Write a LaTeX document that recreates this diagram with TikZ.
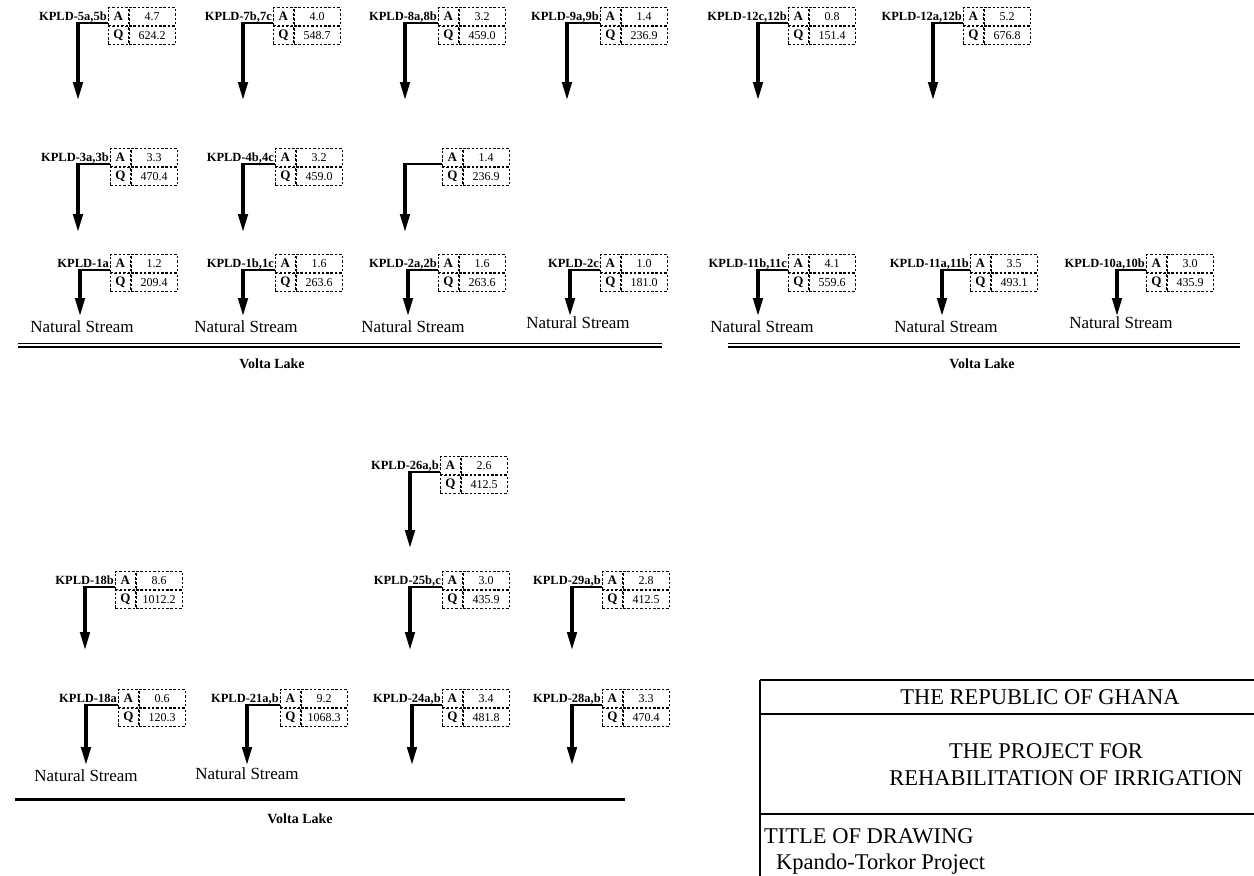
\documentclass[tikz,border=0pt]{standalone}
\usepackage{fontspec}
\setmainfont{Liberation Serif}
\usetikzlibrary{arrows.meta}
\tikzset{
  cellbox/.style={draw, dashed, dash pattern=on 2.5pt off 1.8pt, line width=0.7pt, minimum width=20pt, minimum height=18pt, inner sep=0pt, font=\fontsize{13}{14}\selectfont\bfseries},
  valbox/.style={draw, dashed, dash pattern=on 2.5pt off 1.8pt, line width=0.7pt, minimum width=46pt, minimum height=18pt, inner sep=0pt, font=\fontsize{12}{13}\selectfont},
  kplabel/.style={inner sep=1pt, font=\fontsize{12.5}{13}\selectfont\bfseries},
  hline/.style={line width=1.8pt},
  flow/.style={line width=3.2pt, -{Triangle[length=18pt,width=9.5pt]}},
  stream/.style={inner sep=0pt, font=\fontsize{17}{18}\selectfont},
  lake/.style={inner sep=0pt, font=\fontsize{14}{15}\selectfont\bfseries},
  titletxt/.style={inner sep=0pt, font=\fontsize{22.5}{26}\selectfont, align=center},
  frame/.style={line width=1.2pt},
}
% #1 name, #2 left x of cells, #3 split y, #4 label, #5 A, #6 Q, #7 arrow x, #8 tip y
\newcommand{\flowunit}[8]{%
  \node[cellbox, anchor=south west] (#1-a) at (#2,#3) {A};
  \node[cellbox, anchor=north west] (#1-q) at (#2,#3) {Q};
  \node[valbox, anchor=west] (#1-av) at (#1-a.east) {#5};
  \node[valbox, anchor=west] (#1-qv) at (#1-q.east) {#6};
  \node[kplabel, anchor=east] (#1-l) at (#1-a.west) {#4};
  \coordinate (#1-c) at (#7,#3-3);
  \coordinate (#1-e) at (#7,#8);
  \draw[hline] ([yshift=3pt]#1-a.south west) -- (#1-c);
  \draw[flow] ([yshift=0.9pt]#1-c) -- (#1-e);
}
\begin{document}
\begin{tikzpicture}[x=1pt,y=-1pt]
\useasboundingbox[fill=white] (0,0) rectangle (1254,876);
% ---- section 1, row 1
\flowunit{u1}{108}{26}{KPLD-5a,5b}{4.7}{624.2}{78}{100}
\flowunit{u2}{273}{26}{KPLD-7b,7c}{4.0}{548.7}{243}{100}
\flowunit{u3}{438}{26}{KPLD-8a,8b}{3.2}{459.0}{405}{100}
\flowunit{u4}{600}{26}{KPLD-9a,9b}{1.4}{236.9}{567}{100}
\flowunit{u5}{788}{26}{KPLD-12c,12b}{0.8}{151.4}{758}{100}
\flowunit{u6}{963}{26}{KPLD-12a,12b}{5.2}{676.8}{933}{100}
% ---- row 2
\flowunit{u7}{110}{167}{KPLD-3a,3b}{3.3}{470.4}{78}{232}
\flowunit{u8}{275}{167}{KPLD-4b,4c}{3.2}{459.0}{243}{232}
\flowunit{u9}{442}{167}{}{1.4}{236.9}{405}{232}
% ---- row 3
\flowunit{u10}{110}{273}{KPLD-1a}{1.2}{209.4}{80}{316}
\flowunit{u11}{275}{273}{KPLD-1b,1c}{1.6}{263.6}{243}{316}
\flowunit{u12}{438}{273}{KPLD-2a,2b}{1.6}{263.6}{408}{316}
\flowunit{u13}{600}{273}{KPLD-2c}{1.0}{181.0}{570}{316}
\flowunit{u14}{788}{273}{KPLD-11b,11c}{4.1}{559.6}{758}{316}
\flowunit{u15}{970}{273}{KPLD-11a,11b}{3.5}{493.1}{942}{316}
\flowunit{u16}{1146}{273}{KPLD-10a,10b}{3.0}{435.9}{1117}{316}
\node[stream] (ns1) at (82,327) {Natural Stream};
\node[stream] (ns2) at (246,327) {Natural Stream};
\node[stream] (ns3) at (413,327) {Natural Stream};
\node[stream] (ns4) at (578,323) {Natural Stream};
\node[stream] (ns5) at (762,327) {Natural Stream};
\node[stream] (ns6) at (946,327) {Natural Stream};
\node[stream] (ns7) at (1121,323) {Natural Stream};
% lake lines
\draw[line width=1pt] (18,343) -- (662,343);
\draw[line width=1.6pt] (18,347) -- (662,347);
\draw[line width=1pt] (728,343) -- (1240,343);
\draw[line width=1.6pt] (728,347) -- (1240,347);
\node[lake] (vl1) at (272,364) {Volta Lake};
\node[lake] (vl2) at (982,364) {Volta Lake};
% ---- section 3
\flowunit{u17}{440}{475}{KPLD-26a,b}{2.6}{412.5}{410}{548}
\flowunit{u18}{115}{590}{KPLD-18b}{8.6}{1012.2}{85}{650}
\flowunit{u19}{442}{590}{KPLD-25b,c}{3.0}{435.9}{410}{650}
\flowunit{u20}{602}{590}{KPLD-29a,b}{2.8}{412.5}{572}{650}
\flowunit{u21}{118}{708}{KPLD-18a}{0.6}{120.3}{86}{765}
\flowunit{u22}{280}{708}{KPLD-21a,b}{9.2}{1068.3}{247}{765}
\flowunit{u23}{442}{708}{KPLD-24a,b}{3.4}{481.8}{412}{765}
\flowunit{u24}{602}{708}{KPLD-28a,b}{3.3}{470.4}{572}{765}
\node[stream] (ns8) at (86,776) {Natural Stream};
\node[stream] (ns9) at (247,774) {Natural Stream};
\draw[line width=3pt] (15,799) -- (625,799);
\node[lake] (vl3) at (300,819) {Volta Lake};
% ---- title block
\draw[line width=2.2pt] (760,680) -- (760,876);
\draw[frame] (760,680) -- (1254,680);
\draw[frame] (760,714) -- (1254,714);
\draw[frame] (760,814) -- (1254,814);
\node[titletxt] (t1) at (1040,697) {THE REPUBLIC OF GHANA};
\node[titletxt] (t2) at (1046,751) {THE PROJECT FOR};
\node[titletxt] (t3) at (1066,778) {REHABILITATION OF IRRIGATION};
\node[titletxt, anchor=west] (t4) at (764,836) {TITLE OF DRAWING};
\node[titletxt, anchor=base west] (t5) at (776,869) {Kpando-Torkor Project};
\end{tikzpicture}
\end{document}
